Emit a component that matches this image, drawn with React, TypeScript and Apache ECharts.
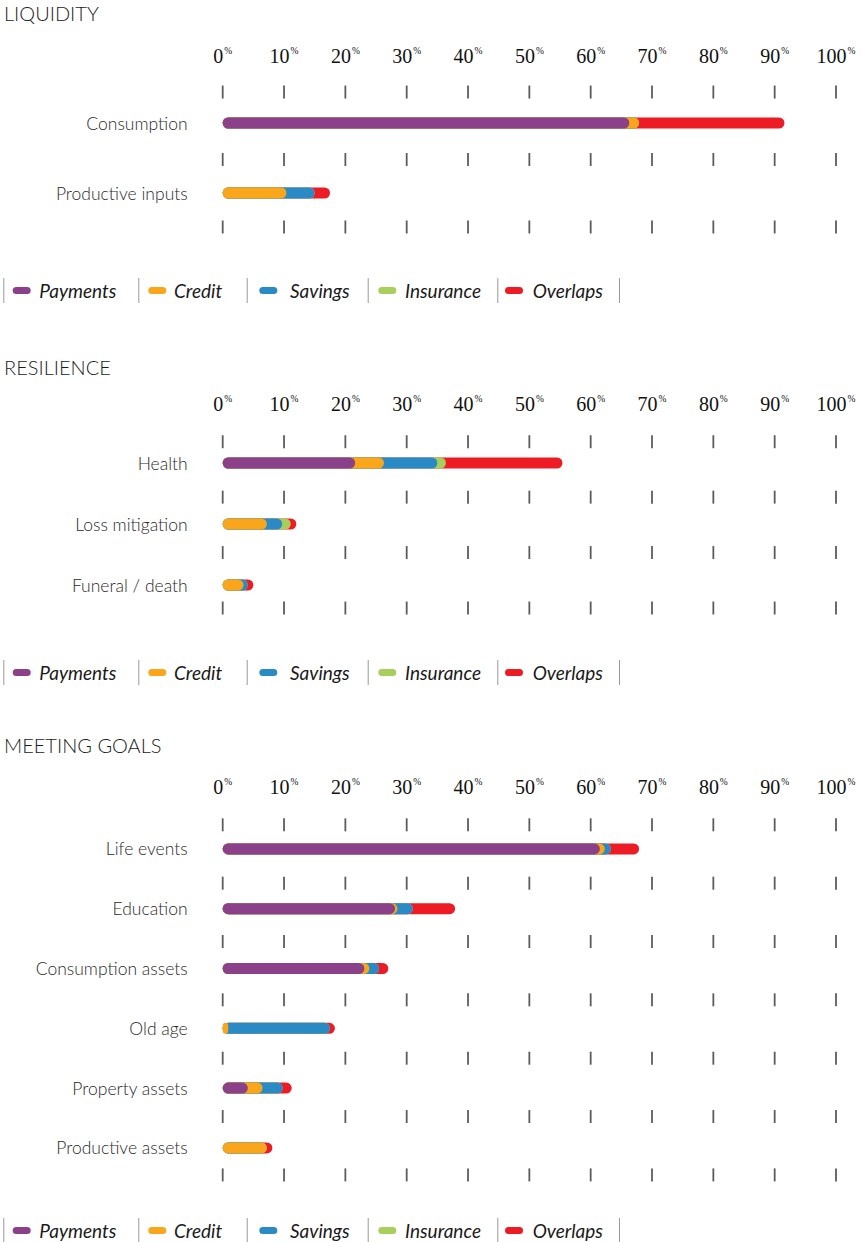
import React, { useEffect, useRef } from "react";
import * as echarts from "echarts";

// ---------- DATA ----------
const seriesNames = ["Payments", "Credit", "Savings", "Insurance", "Overlaps"];
const xTicks = [0, 10, 20, 30, 40, 50, 60, 70, 80, 90, 100];

const liquidityCats = ["Consumption", "Productive inputs"];
const liquidityPayments = [66.3, 0];
const liquidityCredit = [1.6, 10.4];
const liquiditySavings = [0, 4.6];
const liquidityInsurance = [0, 0];
const liquidityOverlaps = [23.7, 2.5];

const resilienceCats = ["Health", "Loss mitigation", "Funeral / death"];
const resiliencePayments = [21.6, 0, 0];
const resilienceCredit = [4.7, 7.2, 3.4];
const resilienceSavings = [8.7, 2.5, 0.7];
const resilienceInsurance = [1.4, 1.4, 0];
const resilienceOverlaps = [19.0, 0.9, 0.9];

const goalsCats = ["Life events", "Education", "Consumption assets", "Old age", "Property assets", "Productive assets"];
const goalsPayments = [61.5, 28.1, 23.1, 0, 4.1, 0];
const goalsCredit = [0.8, 0.4, 0.8, 0.9, 2.4, 7.2];
const goalsSavings = [1.0, 2.5, 1.6, 16.6, 3.3, 0];
const goalsInsurance = [0, 0, 0, 0, 0, 0];
const goalsOverlaps = [4.6, 6.9, 1.5, 0.8, 1.45, 0.9];

// ---------- STYLE / LAYOUT ----------
const COLORS = ["#8a4189", "#f9a61b", "#2a8ac6", "#a8cf5b", "#ed1c24"];
const W = 862;
const H = 1242;
const GRID_LEFT = 222.7;
const GRID_RIGHT = 26;

const sections = [
  {
    title: "LIQUIDITY",
    cats: liquidityCats,
    values: [liquidityPayments, liquidityCredit, liquiditySavings, liquidityInsurance, liquidityOverlaps],
    top: 88, band: 70, tickMin: -0.06, tickMax: 2.015, labelMargin: 22, titleY: 14, legendY: 290.5,
  },
  {
    title: "RESILIENCE",
    cats: resilienceCats,
    values: [resiliencePayments, resilienceCredit, resilienceSavings, resilienceInsurance, resilienceOverlaps],
    top: 432.5, band: 61, tickMin: -0.166, tickMax: 3.135, labelMargin: 18.5, titleY: 368, legendY: 672.5,
  },
  {
    title: "MEETING GOALS",
    cats: goalsCats,
    values: [goalsPayments, goalsCredit, goalsSavings, goalsInsurance, goalsOverlaps],
    top: 819, band: 59.8, tickMin: -0.1, tickMax: 6.05, labelMargin: 22, titleY: 746, legendY: 1230.5,
  },
];

const legendSeps = [3.3, 138.3, 246.7, 367.7, 497.3, 619];
const legendMarkX = [12.7, 148.3, 259.3, 378.3, 505];
const legendTextX = [39.3, 174, 290, 405, 532.7];

function buildOption() {
  const grid: any[] = [];
  const xAxis: any[] = [];
  const yAxis: any[] = [];
  const series: any[] = [];
  const graphic: any[] = [];

  sections.forEach((s, i) => {
    const n = s.cats.length;
    grid.push({ left: GRID_LEFT, right: GRID_RIGHT, top: s.top, height: s.band * n });
    xAxis.push({
      type: "value",
      gridIndex: i,
      position: "top",
      min: 0,
      max: 100,
      interval: 10,
      axisLine: { show: false },
      axisTick: { show: false },
      splitLine: { show: false },
      axisLabel: {
        margin: s.labelMargin,
        showMinLabel: true,
        showMaxLabel: true,
        formatter: (v: number) => `{n|${v}}{p|%}`,
        rich: {
          n: { fontFamily: "Liberation Serif", fontSize: 20, color: "#111111", lineHeight: 20, verticalAlign: "bottom" },
          p: { fontFamily: "Liberation Serif", fontSize: 9.5, color: "#111111", lineHeight: 9, verticalAlign: "top", padding: [0, 0, 0, 1] },
        },
      },
    });
    yAxis.push({
      type: "category",
      gridIndex: i,
      data: s.cats,
      inverse: true,
      axisLine: { show: false },
      axisTick: { show: false },
      splitLine: { show: false },
      axisLabel: { margin: 35, fontFamily: "Lato", fontWeight: 300, fontSize: 17.5, color: "#2a2a2a" },
    });
    yAxis.push({
      type: "value",
      gridIndex: i,
      min: s.tickMin,
      max: s.tickMax,
      inverse: true,
      show: false,
    });

    // cumulative values; largest drawn first (behind)
    const cum: number[][] = [];
    s.values.forEach((arr, k) => {
      cum.push(arr.map((v, j) => (k === 0 ? v : cum[k - 1][j] + v)));
    });
    for (let k = seriesNames.length - 1; k >= 0; k--) {
      series.push({
        type: "bar",
        name: seriesNames[k],
        xAxisIndex: i,
        yAxisIndex: 2 * i,
        data: cum[k].map((v) => +v.toFixed(2)),
        barWidth: 11,
        barGap: "-100%",
        itemStyle: { color: COLORS[k], borderRadius: 5.5 },
        silent: true,
      });
    }
    const tickData: number[][] = [];
    for (let b = 0; b <= n; b++) xTicks.forEach((x) => tickData.push([x, b]));
    series.push({
      type: "scatter",
      xAxisIndex: i,
      yAxisIndex: 2 * i + 1,
      data: tickData,
      symbol: "rect",
      symbolSize: [1.8, 13],
      itemStyle: { color: "#333333" },
      clip: false,
      silent: true,
      z: 1,
    });

    // title
    graphic.push({
      type: "text",
      left: 4,
      top: s.titleY - 11,
      style: { text: s.title, fontFamily: "Lato", fontWeight: 300, fontSize: 20, fill: "#1a1a1a" },
    });
    // legend
    legendSeps.forEach((x) => {
      graphic.push({ type: "rect", shape: { x: x, y: s.legendY - 12.5, width: 1, height: 25 }, style: { fill: "#9a9a9a" } });
    });
    seriesNames.forEach((name, k) => {
      graphic.push({ type: "rect", shape: { x: legendMarkX[k], y: s.legendY - 3.5, width: 18, height: 7, r: 3.5 }, style: { fill: COLORS[k] } });
      graphic.push({
        type: "text",
        x: legendTextX[k],
        y: s.legendY,
        style: { text: name, fontFamily: "Lato", fontStyle: "italic", fontSize: 19, fill: "#1a1a1a", verticalAlign: "middle" },
      });
    });
  });

  return { animation: false, backgroundColor: "#ffffff", grid, xAxis, yAxis, series, graphic };
}

export default function App() {
  const ref = useRef<HTMLDivElement>(null);
  useEffect(() => {
    if (!ref.current) return;
    const chart = echarts.init(ref.current, undefined, { renderer: "svg" });
    chart.setOption(buildOption() as any);
    return () => chart.dispose();
  }, []);
  return <div ref={ref} style={{ position: "absolute", left: 0, top: 0, width: W, height: H }} />;
}
